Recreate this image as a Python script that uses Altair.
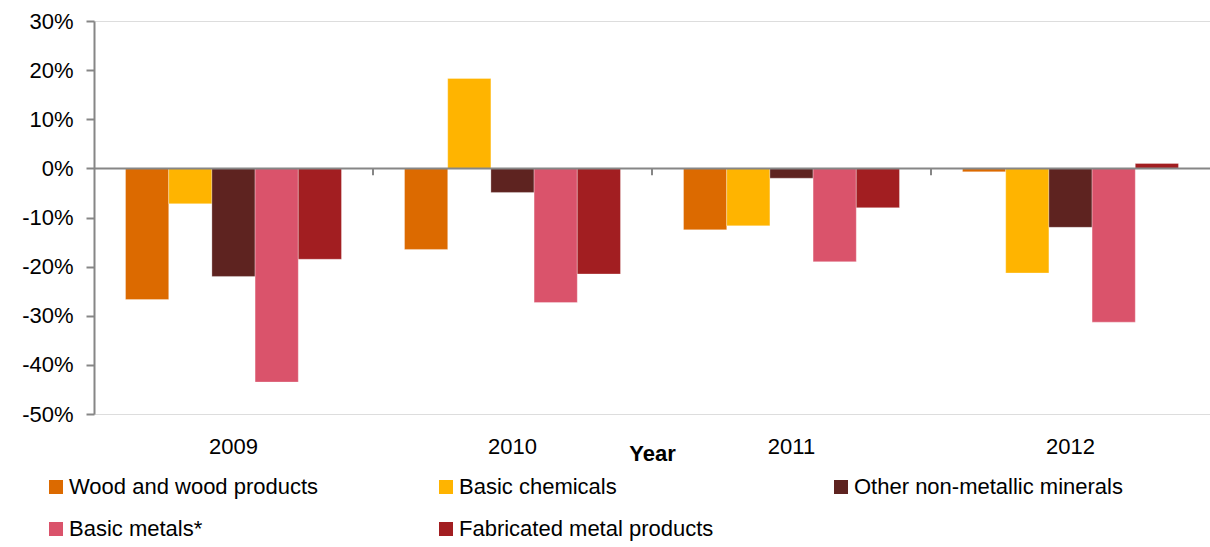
import altair as alt
import pandas as pd

years = ["2009", "2010", "2011", "2012"]
sectors = ["Wood and wood products", "Basic chemicals", "Other non-metallic minerals",
           "Basic metals*", "Fabricated metal products"]
colors = ["#DC6A00", "#FFB400", "#5E2320", "#DA536B", "#A21E21"]

wood = [-26.7, -16.5, -12.5, -0.7]
chem = [-7.2, 18.3, -11.7, -21.3]
other = [-22.0, -4.9, -2.0, -12.0]
metals = [-43.5, -27.3, -19.0, -31.3]
fab = [-18.5, -21.5, -8.0, 1.0]

series = [wood, chem, other, metals, fab]
rows = []
for s, vals in zip(sectors, series):
    for y, v in zip(years, vals):
        rows.append({"year": y, "sector": s, "value": v})
df = pd.DataFrame(rows)
ticks_df = pd.DataFrame({"year": years[1:]})

axis_color = "#868686"
font = "Liberation Sans"
fs = 22

x_enc = alt.X("year:N", sort=years, scale=alt.Scale(paddingInner=0, paddingOuter=0),
              axis=alt.Axis(title="Year", orient="bottom", domain=False, ticks=False,
                            labelAngle=0, labelPadding=22, labelFontSize=fs,
                            labelColor="#000000", labelFont=font,
                            titleFont=font, titleFontSize=fs, titleFontWeight="bold",
                            titleColor="#000000", titlePadding=-14))
y_scale = alt.Scale(domain=[-50, 30], nice=False, zero=False)

bars = alt.Chart(df).mark_bar(stroke="white", strokeWidth=0.5, strokeOpacity=0.6).encode(
    x=x_enc,
    xOffset=alt.XOffset("sector:N", sort=sectors,
                        scale=alt.Scale(domain=sectors, paddingInner=0, paddingOuter=0.73)),
    y=alt.Y("value:Q", scale=y_scale,
            axis=alt.Axis(title=None, values=[30, 20, 10, 0, -10, -20, -30, -40, -50],
                          labelExpr="datum.value + '%'", grid=False,
                          domainColor=axis_color, domainWidth=2, tickColor=axis_color,
                          tickWidth=2, tickSize=8, labelFontSize=fs, labelFont=font,
                          labelColor="#000000", labelPadding=13)),
    y2=alt.datum(0),
    color=alt.Color("sector:N", sort=sectors,
                    scale=alt.Scale(domain=sectors, range=colors),
                    legend=alt.Legend(title=None, orient="none", legendX=-49, legendY=455,
                                      direction="horizontal", columns=3, columnPadding=116,
                                      rowPadding=20,
                                      symbolType="square", symbolSize=196, symbolStrokeWidth=0,
                                      labelFontSize=fs, labelFont=font, labelColor="#000000",
                                      labelLimit=400, symbolOffset=0, labelOffset=2)),
)

zero = alt.Chart(pd.DataFrame({"v": [0]})).mark_rule(color=axis_color, strokeWidth=2).encode(
    y=alt.Y("v:Q", scale=y_scale)
)

bticks = alt.Chart(ticks_df).mark_rule(color=axis_color, strokeWidth=2).encode(
    x=alt.X("year:N", sort=years, bandPosition=0),
    y=alt.datum(0),
    y2=alt.datum(-1.4),
)

chart = alt.layer(bars, zero, bticks).properties(
    width=1116, height=393,
    autosize=alt.AutoSizeParams(type="none"),
    padding={"left": 94, "top": 21, "right": 0, "bottom": 133},
).configure_view(stroke=None).configure(background="white")

chart.save("out.html", embed_options={"renderer": "svg", "actions": False})
